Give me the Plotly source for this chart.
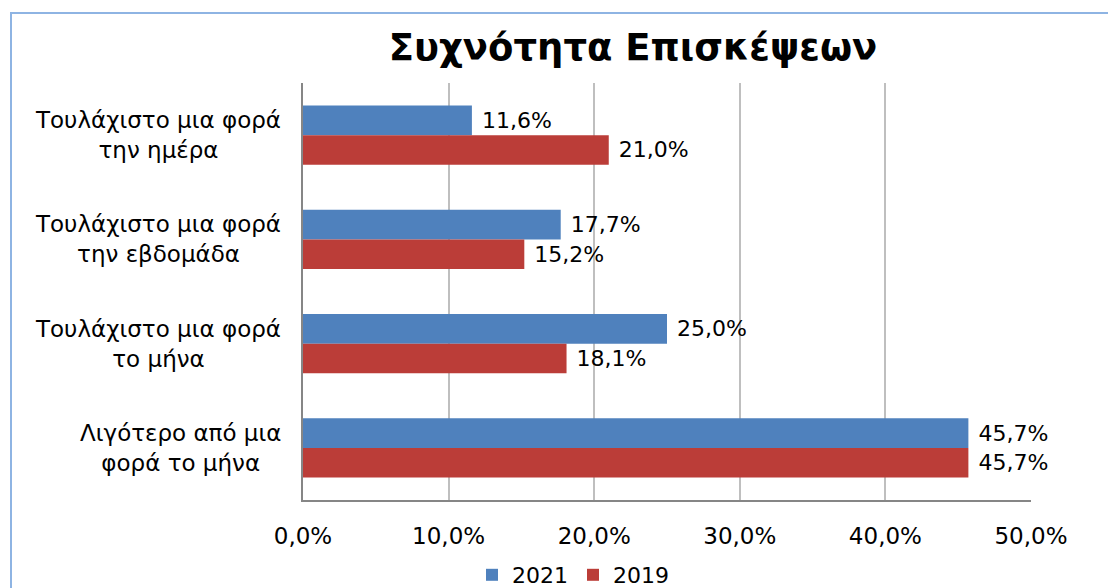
import plotly.graph_objects as go

categories = [
    "Τουλάχιστο μια φορά<br>την ημέρα",
    "Τουλάχιστο μια φορά<br>την εβδομάδα",
    "Τουλάχιστο μια φορά<br>το μήνα",
    "Λιγότερο από μια<br>φορά το μήνα",
]
values_2021 = [11.6, 17.7, 25.0, 45.7]
values_2019 = [21.0, 15.2, 18.1, 45.7]
x_ticks = [0, 10, 20, 30, 40, 50]
x_tick_labels = ["0,0%", "10,0%", "20,0%", "30,0%", "40,0%", "50,0%"]

FONT = "Verdana, DejaVu Sans, sans-serif"
BLUE = "#4F81BD"
RED = "#BB3D38"

fig = go.Figure()
fig.add_trace(go.Bar(
    y=categories, x=values_2021, name="2021", orientation="h",
    marker=dict(color=BLUE, line=dict(width=0)),
    texttemplate=" %{x:.1f}%", textposition="outside", cliponaxis=False,
    textfont=dict(family=FONT, size=22, color="#000000"),
))
fig.add_trace(go.Bar(
    y=categories, x=values_2019, name="2019", orientation="h",
    marker=dict(color=RED, line=dict(width=0)),
    texttemplate=" %{x:.1f}%", textposition="outside", cliponaxis=False,
    textfont=dict(family=FONT, size=22, color="#000000"),
))

for c in categories:
    fig.add_annotation(
        x=0, xref="paper", y=c, yref="y", text=c, showarrow=False,
        xanchor="right", xshift=-20, align="center",
        font=dict(family=FONT, size=23, color="#000000"),
    )

W, H = 1108, 588
L, R, T, B = 303, 77, 83, 88
pw, ph = W - L - R, H - T - B

fig.add_shape(
    type="rect", xref="paper", yref="paper",
    x0=(11 - L) / pw, x1=(1120 - L) / pw,
    y0=(B - 600) / ph, y1=(H - 13 - B) / ph,
    line=dict(color="#8EB4E3", width=2), fillcolor="rgba(0,0,0,0)", layer="below",
)

fig.update_layout(
    width=W, height=H,
    margin=dict(l=L, r=R, t=T, b=B, autoexpand=False),
    paper_bgcolor="white", plot_bgcolor="white",
    separators=",.",
    barmode="group", bargap=0.434, bargroupgap=0,
    title=dict(text="<b>Συχνότητα Επισκέψεων</b>", x=633 / W, xanchor="center",
               y=1 - 47 / H, yanchor="middle", yref="container",
               font=dict(family=FONT, size=37, color="#000000")),
    font=dict(family=FONT, color="#000000"),
    xaxis=dict(range=[0, 50], tickvals=x_ticks, ticktext=x_tick_labels,
               showgrid=True, gridcolor="#BFBFBF", gridwidth=2,
               showline=True, linecolor="#868686", linewidth=2,
               zeroline=False, ticks="", ticklabelstandoff=14,
               tickfont=dict(family=FONT, size=23, color="#000000")),
    yaxis=dict(autorange="reversed", showticklabels=False, showgrid=False,
               showline=True, linecolor="#868686", linewidth=2, ticks=""),
    legend=dict(orientation="h", x=573 / W, xanchor="center", xref="container",
                y=1 - 575 / H, yanchor="middle", yref="container",
                font=dict(family=FONT, size=22, color="#000000"),
                itemwidth=30, tracegroupgap=0),
    showlegend=True,
)

fig.write_html("out.html", config={"displayModeBar": False},
               post_script="document.body.style.margin='0';document.body.style.overflow='hidden';")
